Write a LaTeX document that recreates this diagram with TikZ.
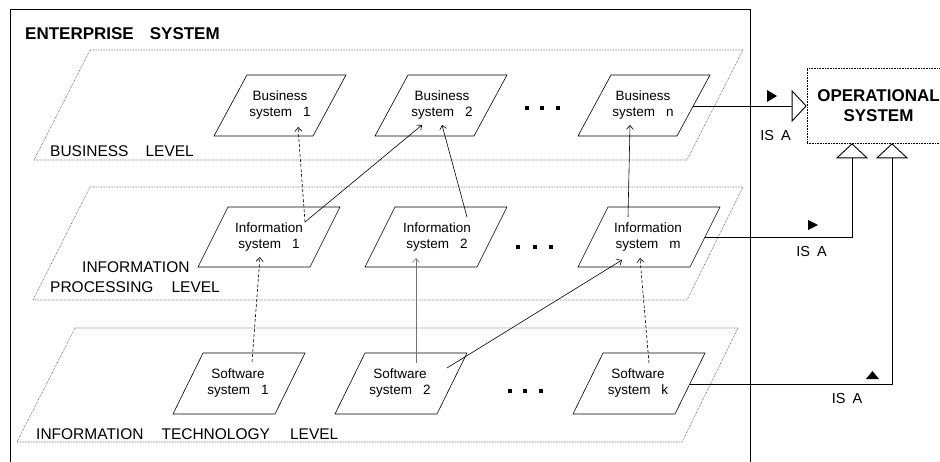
\documentclass[tikz,border=0pt]{standalone}
\usepackage{fontspec}
\setmainfont{Liberation Sans}
\usetikzlibrary{arrows.meta}

% parallelogram: centre x, centre y, half width, half slant, half height
\newcommand\pgram[6][sysline]{%
  \draw[#1] (#2-#4+#5,#3-#6) -- (#2+#4+#5,#3-#6) -- (#2+#4-#5,#3+#6) -- (#2-#4-#5,#3+#6) -- cycle;}

\begin{document}
\begin{tikzpicture}[x=1pt,y=-1pt,
  plane/.style={densely dotted, line width=0.6pt, black!75},
  sysline/.style={line width=0.6pt},
  systext/.style={align=center, font=\fontsize{13.5}{16}\selectfont, inner sep=0pt},
  lvl/.style={anchor=west, inner sep=0pt, font=\fontsize{15.5}{20}\selectfont},
  link/.style={line width=0.6pt, -{Straight Barb[length=4pt,width=7pt]}},
  isa/.style={line width=0.7pt, -{Triangle[open,length=15pt,width=32pt,line width=0.9pt]}},
  isalbl/.style={font=\fontsize{14.5}{17}\selectfont, inner sep=0pt},
  dotsq/.style={fill, minimum size=4pt, inner sep=0pt}
]
\useasboundingbox (0,0) rectangle (940,461);
\clip (0,0) rectangle (940,461);

% enterprise frame
\draw[line width=0.7pt] (10,470) -- (10,9) -- (750,9) -- (750,470);
\node[anchor=west, inner sep=0pt, font=\bfseries\fontsize{17}{20}\selectfont] (ent) at (25,33.5) {ENTERPRISE\hspace{16pt}SYSTEM};

% level planes
\draw[plane] (90,50) -- (743,50) -- (687,160) -- (34,160) -- cycle;
\draw[plane] (90,187) -- (743,187) -- (687,300) -- (33,300) -- cycle;
\draw[plane] (75,328) -- (738,328) -- (682,442) -- (17,442) -- cycle;

\node[lvl] (lbus) at (50,151) {BUSINESS\hspace{17pt}LEVEL};
\node[lvl] (lip1) at (82,267.5) {INFORMATION};
\node[lvl] (lip2) at (50,287.5) {PROCESSING\hspace{18pt}LEVEL};
\node[lvl] (lit) at (36,434) {INFORMATION\hspace{18pt}TECHNOLOGY\hspace{20pt}LEVEL};

% business systems
\pgram{280}{105.5}{49.5}{16.5}{30.5}
\pgram{441}{105.5}{49.5}{16.5}{30.5}
\pgram{644}{105.5}{49.5}{16.5}{30.5}
\node[systext] (b1) at (280,105.5) {Business\\system\hspace{11pt}1};
\node[systext] (b2) at (442,105.5) {Business\\system\hspace{11pt}2};
\node[systext] (bn) at (643,105.5) {Business\\system\hspace{11pt}n};

% information systems
\pgram{269}{237}{56}{15}{30}
\pgram{436}{237}{56}{15}{30}
\pgram{649}{237}{56}{15}{30}
\node[systext] (i1) at (269,237.5) {Information\\system\hspace{11pt}1};
\node[systext] (i2) at (437,237.5) {Information\\system\hspace{11pt}2};
\node[systext] (im) at (648,237.5) {Information\\system\hspace{11pt}m};

% software systems
\pgram{239}{383.5}{51}{15}{30.5}
\pgram{401}{383.5}{51}{15}{30.5}
\pgram{639}{383.5}{51}{15}{30.5}
\node[systext] (s1) at (238,383.5) {Software\\system\hspace{11pt}1};
\node[systext] (s2) at (400,383.5) {Software\\system\hspace{11pt}2};
\node[systext] (sk) at (638,383.5) {Software\\system\hspace{11pt}k};

% ellipses
\node[dotsq] (d11) at (527,108) {};
\node[dotsq] (d12) at (542,108) {};
\node[dotsq] (d13) at (558,108) {};
\node[dotsq] (d21) at (518,247) {};
\node[dotsq] (d22) at (535,247) {};
\node[dotsq] (d23) at (551,247) {};
\node[dotsq] (d31) at (510,391) {};
\node[dotsq] (d32) at (525,391) {};
\node[dotsq] (d33) at (541,391) {};

% connector ends inside the system boxes
\coordinate (i1a) at (305,222);
\coordinate (b1a) at (298,127);
\coordinate (b2a) at (422,125);
\coordinate (b2b) at (442,125);
\coordinate (i2a) at (467,217);
\coordinate (ima) at (628,217);
\coordinate (bna) at (630,125);
\coordinate (s1a) at (252,362);
\coordinate (i1b) at (260,257);
\coordinate (s2a) at (416,363);
\coordinate (i2b) at (416,258);
\coordinate (s2b) at (447,368);
\coordinate (imb) at (622,260);
\coordinate (ska) at (649,363);
\coordinate (imc) at (640,258);

\draw[link, densely dashed] (i1a) -- (b1a);
\draw[link] (i1a) -- (b2a);
\draw[link] (i2a) -- (b2b);
\draw[link] (ima) -- (bna);
\draw[link, densely dashed] (s1a) -- (i1b);
\draw[link, black!55] (s2a) -- (i2b);
\draw[link] (s2b) -- (imb);
\draw[link, densely dashed] (ska) -- (imc);

% operational system
\node[draw, densely dotted, line width=0.6pt, minimum width=143pt, minimum height=75pt,
      align=center, font=\bfseries\fontsize{17}{20}\selectfont] (os) at (878.5,105.5)
      {OPERATIONAL\\SYSTEM};

\coordinate (bnr) at (693,106);
\coordinate (imr) at (705,237);
\coordinate (skr) at (690,384);
\coordinate (k2) at (852,237);
\coordinate (k3) at (892,384);

\draw[isa] (bnr) -- (bnr -| os.west);
\draw[isa] (imr) -- (k2) -- (k2 |- os.south);
\draw[isa] (skr) -- (k3) -- (k3 |- os.south);

% direction marks and labels
\fill (767,90) -- (777,96) -- (767,102) -- cycle;
\fill (808,220) -- (818,225) -- (808,230) -- cycle;
\fill (866,379) -- (872.5,371) -- (879,379) -- cycle;
\node[isalbl] (isa1) at (775.5,136) {IS\hspace{7pt}A};
\node[isalbl] (isa2) at (811.5,252) {IS\hspace{7pt}A};
\node[isalbl] (isa3) at (847,399) {IS\hspace{7pt}A};
\end{tikzpicture}
\end{document}
